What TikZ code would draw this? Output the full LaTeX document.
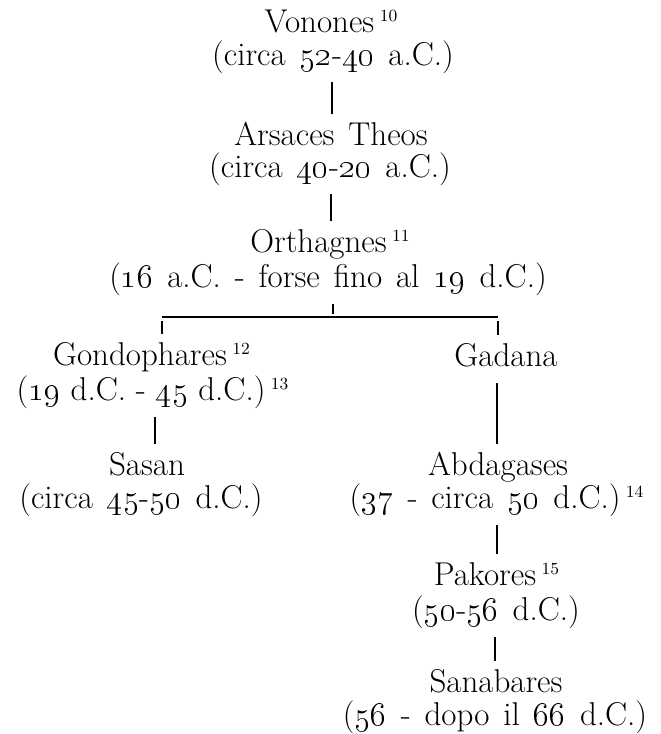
\documentclass[tikz,border=0pt]{standalone}
\usetikzlibrary{calc}
\newcommand\osn[1]{\oldstylenums{#1}}
\newcommand\fnref[1]{\,\raisebox{5.2pt}{\fontsize{8.5}{8.5}\selectfont #1}}
\newcommand\widespaces{\spaceskip=0.42em plus 0.1em\relax}
\newcommand\plainspaces{\spaceskip=0pt\relax}
\begin{document}
\begin{tikzpicture}[x=0.5pt,y=-0.5pt,
  txt/.style={inner xsep=0pt, inner ysep=5pt, anchor=base,
    text height=10.5pt, text depth=3.5pt,
    font=\fontsize{16.5}{19}\selectfont\widespaces},
  conn/.style={line width=0.6pt, black}]
\fill[white] (0,0) rectangle (660,734);
\useasboundingbox (0,0) rectangle (660,734);

% rulers and their dates
\node[txt] (v1) at (331,32)  {Vonones\fnref{10}};
\node[txt] (v2) at (333,65)  {(circa \osn{52}-\osn{40} a.C.)};
\node[txt] (a1) at (331,145) {Arsaces Theos};
\node[txt] (a2) at (330,177) {(circa \osn{40}-\osn{20} a.C.)};
\node[txt] (o1) at (330,252) {Orthagnes\fnref{11}};
\node[txt] (o2) at (328,287) {(\osn{16} a.C. - forse fino al \osn{19} d.C.)};
\node[txt] (g1) at (140,365) {Gondophares\rlap{\fnref{12}}};
\node[txt] (g2) at (141,400) {\plainspaces(\osn{19} d.C. - \osn{45} d.C.)\rlap{\fnref{13}}};
\node[txt] (s1) at (147,475) {Sasan};
\node[txt] (s2) at (141,508) {(circa \osn{45}-\osn{50} d.C.)};
\node[txt] (d1) at (506,366) {Gadana};
\node[txt] (b1) at (498,475) {Abdagases};
\node[txt] (b2) at (485,508) {(\osn{37} - circa \osn{50} d.C.)\rlap{\fnref{14}}};
\node[txt] (p1) at (485,585) {Pakores\rlap{\fnref{15}}};
\node[txt] (p2) at (496,620) {(\osn{50}-\osn{56} d.C.)};
\node[txt] (n1) at (496,692) {Sanabares};
\node[txt] (n2) at (495,725) {(\osn{56} - dopo il \osn{66} d.C.)};

% columns of the connecting lines
\coordinate (xa) at (332,0);
\coordinate (xb) at (331,0);
\coordinate (xg) at (155,0);
\coordinate (xd) at (497,0);
\coordinate (xp) at (495,0);
\coordinate (barL) at (162,317);
\coordinate (barM) at (333,317);
\coordinate (barR) at (498,317);

\draw[conn] (v2.south -| xa) -- (a1.north -| xa);
\draw[conn] (a2.south -| xb) -- (o1.north -| xb);
\draw[conn] (o2.south -| barM) -- ($(barM)+(0,-3)$);
\draw[conn] (barL) -- (barR);
\draw[conn] ($(barL)+(0,4)$) -- (g1.north -| barL);
\draw[conn] ($(barR)+(0,4)$) -- (d1.north -| barR);
\draw[conn] (g2.south -| xg) -- (s1.north -| xg);
\draw[conn] (d1.south -| xd) -- (b1.north -| xd);
\draw[conn] (b2.south -| xd) -- (p1.north -| xd);
\draw[conn] (p2.south -| xp) -- (n1.north -| xp);
\end{tikzpicture}
\end{document}
